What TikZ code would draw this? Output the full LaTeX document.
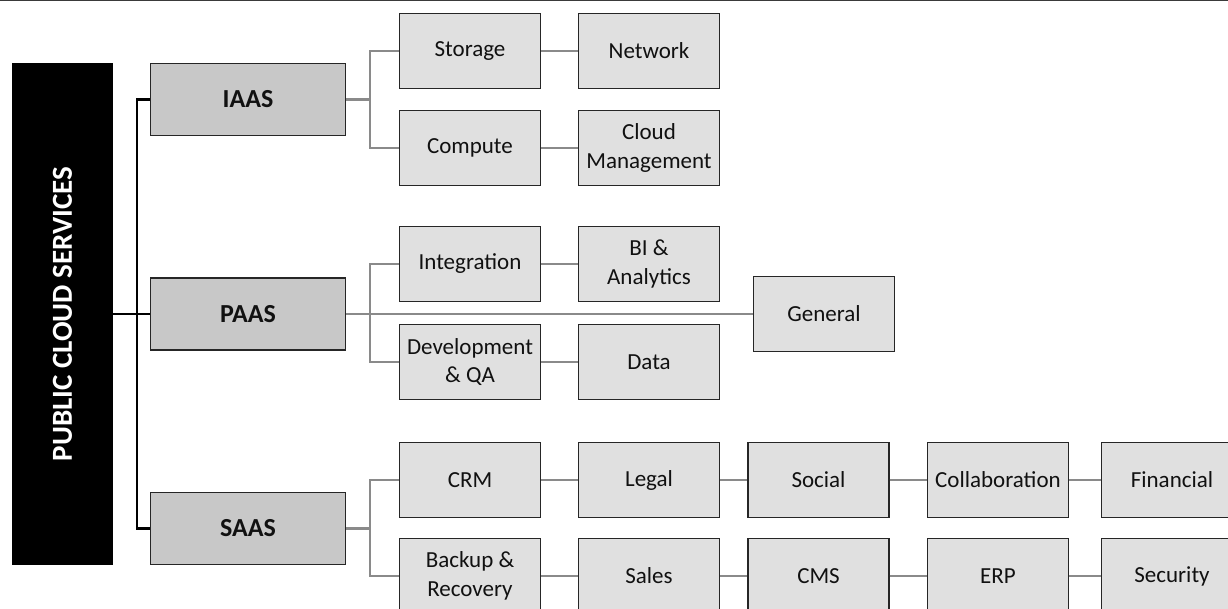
\documentclass[tikz,border=0pt]{standalone}
\usepackage{fontspec}
\setmainfont{Carlito}
\definecolor{edge}{HTML}{262626}
\definecolor{lvlfill}{HTML}{C8C8C8}
\definecolor{leaffill}{HTML}{E0E0E0}
\definecolor{linkgray}{HTML}{8A8A8A}
\definecolor{ink}{HTML}{111111}
\definecolor{topline}{HTML}{3A3A3A}
\begin{document}
\begin{tikzpicture}[x=1pt,y=-1pt,
  rootbox/.style={fill=black, minimum width=101pt, minimum height=502pt, inner sep=0pt},
  lvlone/.style={draw=edge, line width=1.5pt, fill=lvlfill, minimum width=195pt,
    minimum height=72pt, inner sep=0pt, text=ink,
    font=\fontsize{26}{30}\selectfont\bfseries},
  leaf/.style={draw=edge, line width=1.3pt, fill=leaffill, minimum width=141pt,
    minimum height=75pt, inner sep=0pt, align=center, text=ink,
    font=\fontsize{23}{28.5}\selectfont},
  trunk/.style={line width=2.5pt, black},
  branch/.style={line width=2.5pt, linkgray},
]
\useasboundingbox (0,0) rectangle (1228,609);
\fill[white] (0,0) rectangle (1228,609);
\begin{scope}
\clip (0,0) rectangle (1228,609);
\draw[line width=3pt, topline] (0,0) -- (1228,0);

% root and service levels
\node[rootbox] (root) at (62.5,314) {};
\node[rotate=90, text=white, font=\fontsize{29}{34}\selectfont\bfseries] (title) at (root) {PUBLIC CLOUD SERVICES};
\node[lvlone] (iaas) at (248,99.5) {IAAS};
\node[lvlone] (paas) at (248,314) {PAAS};
\node[lvlone] (saas) at (248,528.5) {SAAS};

% IaaS
\node[leaf] (storage) at (470,51) {Storage};
\node[leaf] (network) at (649,51) {Network};
\node[leaf] (compute) at (470,148) {Compute};
\node[leaf] (cloudmgmt) at (649,148) {Cloud\\Management};

% PaaS
\node[leaf] (integration) at (470,264) {Integration};
\node[leaf] (bi) at (649,264) {BI \&\\Analytics};
\node[leaf] (devqa) at (470,362) {Development\\\& QA};
\node[leaf] (data) at (649,362) {Data};
\node[leaf] (general) at (824,314) {General};

% SaaS
\node[leaf] (crm) at (470,480) {CRM};
\node[leaf] (legal) at (649,480) {Legal};
\node[leaf] (social) at (818.5,480) {Social};
\node[leaf] (collab) at (998,480) {Collaboration};
\node[leaf] (financial) at (1172,480) {Financial};
\node[leaf] (backup) at (470,576) {Backup \&\\Recovery};
\node[leaf] (sales) at (649,576) {Sales};
\node[leaf] (cms) at (818.5,576) {CMS};
\node[leaf] (erp) at (998,576) {ERP};
\node[leaf] (security) at (1172,576) {Security};

% black trunk from the root
\coordinate (tk) at (137,0);
\draw[trunk] (root.east) -- (paas.west);
\draw[trunk] (iaas.west) -- (iaas.west -| tk) -- (saas.west -| tk) -- (saas.west);

% grey branches
\coordinate (bx) at (370,0);
\draw[branch] (iaas.east) -- (iaas.east -| bx);
\draw[branch] (storage.west) -- (storage.west -| bx) -- (compute.west -| bx) -- (compute.west);
\draw[branch] (paas.east) -- (general.west);
\draw[branch] (integration.west) -- (integration.west -| bx) -- (devqa.west -| bx) -- (devqa.west);
\draw[branch] (saas.east) -- (saas.east -| bx);
\draw[branch] (crm.west) -- (crm.west -| bx) -- (backup.west -| bx) -- (backup.west);

% chains
\draw[branch] (storage.east) -- (network.west);
\draw[branch] (compute.east) -- (cloudmgmt.west);
\draw[branch] (integration.east) -- (bi.west);
\draw[branch] (devqa.east) -- (data.west);
\draw[branch] (crm.east) -- (legal.west);
\draw[branch] (legal.east) -- (social.west);
\draw[branch] (social.east) -- (collab.west);
\draw[branch] (collab.east) -- (financial.west);
\draw[branch] (backup.east) -- (sales.west);
\draw[branch] (sales.east) -- (cms.west);
\draw[branch] (cms.east) -- (erp.west);
\draw[branch] (erp.east) -- (security.west);
\end{scope}
\end{tikzpicture}
\end{document}
